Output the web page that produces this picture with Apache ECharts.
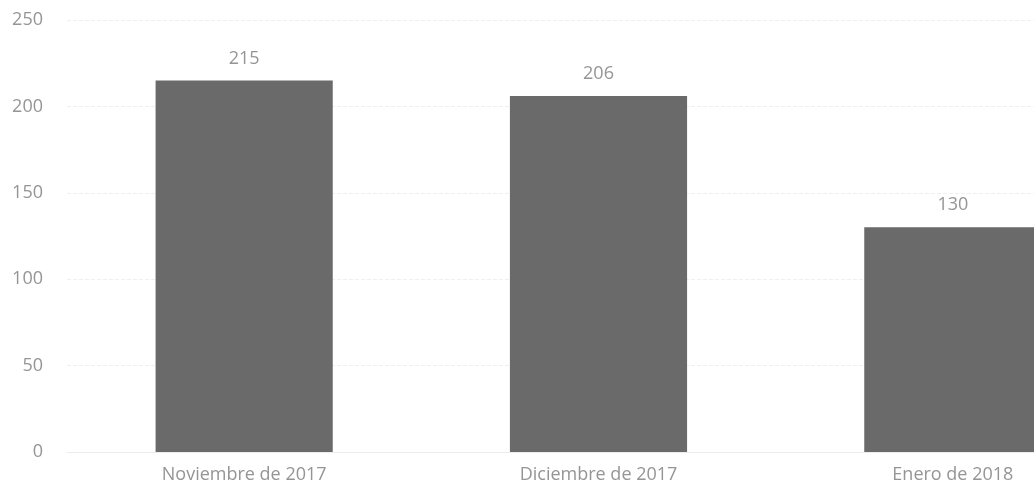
<!DOCTYPE html>
<html>
<head>
<meta charset="utf-8">
<script src="https://cdn.jsdelivr.net/npm/echarts@6/dist/echarts.min.js"></script>
<style>
  html, body { margin: 0; padding: 0; background: #fff; }
  #chart { width: 1034px; height: 495px; }
</style>
</head>
<body>
<div id="chart"></div>
<script>
// categories and values
const categories = ['Noviembre de 2017', 'Diciembre de 2017', 'Enero de 2018'];
const values = [215, 206, 130];

const chart = echarts.init(document.getElementById('chart'));
const textGray = '#959595';

chart.setOption({
  animation: false,
  // the third category runs past the right edge in the reference, so the grid does too
  grid: { left: 67, top: 20, right: -96, bottom: 43, containLabel: false, outerBoundsMode: 'none' },
  xAxis: {
    type: 'category',
    data: categories,
    axisLine: { show: true, lineStyle: { color: '#ececec' } },
    axisTick: { show: false },
    axisLabel: { color: textGray, fontSize: 18, fontFamily: 'Open Sans', margin: 14 }
  },
  yAxis: {
    type: 'value',
    min: 0,
    max: 250,
    interval: 50,
    axisLine: { show: false },
    axisTick: { show: false },
    axisLabel: { color: textGray, fontSize: 18, fontFamily: 'Open Sans', margin: 24 },
    splitLine: { lineStyle: { color: '#efefef', type: 'dashed' } }
  },
  series: [{
    type: 'bar',
    data: values,
    barWidth: '50%',
    itemStyle: { color: '#6a6a6a' },
    label: {
      show: true,
      position: 'top',
      distance: 13,
      color: textGray,
      fontSize: 18,
      fontFamily: 'Open Sans'
    }
  }]
});
</script>
</body>
</html>
